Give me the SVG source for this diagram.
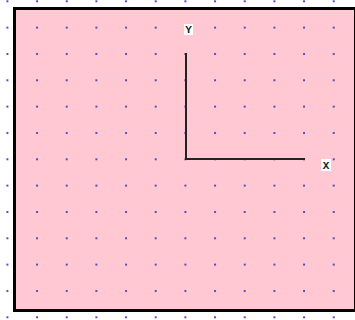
<svg xmlns="http://www.w3.org/2000/svg" width="355" height="320" viewBox="0 0 355 320">
  <style>
    .axis { stroke: #222; stroke-width: 2; fill: none; }
    .lblbox { fill: #ffffff; }
    .lbl { font-family: "Liberation Mono", "DejaVu Sans Mono", monospace; font-size: 11px; font-weight: bold; fill: #222; text-anchor: middle; }
  </style>
  <defs>
    <pattern id="dots" patternUnits="userSpaceOnUse" x="6.4" y="0.3" width="29.667" height="26.333">
      <rect x="0" y="0" width="2" height="2" fill="#5050c0"/>
    </pattern>
  </defs>
  <rect width="355" height="320" fill="#ffffff"/>
  <g id="frame">
    <rect x="14.5" y="8.5" width="341" height="302" fill="#ffc8d2" stroke="#000" stroke-width="3"/>
  </g>
  <rect id="grid" width="355" height="320" fill="url(#dots)"/>
  <g id="connectors">
    <path class="axis" d="M186 53 V159 H305"/>
  </g>
  <g id="label-y">
    <rect class="lblbox" x="184" y="24" width="9" height="11"/>
    <text class="lbl" x="188.5" y="33">Y</text>
  </g>
  <g id="label-x">
    <rect class="lblbox" x="321" y="159" width="10" height="12"/>
    <text class="lbl" x="326" y="168.5">X</text>
  </g>
</svg>
